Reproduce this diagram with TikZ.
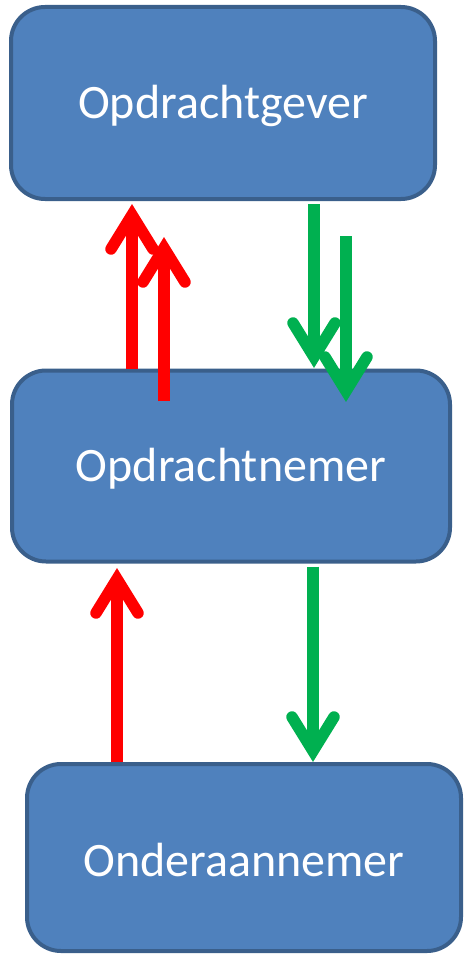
\documentclass[tikz,border=0pt]{standalone}
\usepackage{fontspec}
\setmainfont{Carlito}
\usetikzlibrary{calc}
\definecolor{boxfill}{HTML}{4F81BD}
\definecolor{boxline}{HTML}{3A5F8B}
\definecolor{upred}{HTML}{FF0000}
\definecolor{downgreen}{HTML}{00B050}
% set the name a little below the box centre, keeping its measured size
\newcommand\partyname[1]{\raisebox{-3pt}[\height][\depth]{#1}}
\begin{document}
\begin{tikzpicture}[x=1pt,y=-1pt,
  party/.style={draw=boxline, fill=boxfill, line width=4pt, rounded corners=34pt,
    text=white, font=\fontsize{48}{52}\selectfont, inner sep=0pt},
  shaft/.style={line width=11.5pt, line cap=butt},
  redarrow/.style={shaft, draw=upred},
  greenarrow/.style={shaft, draw=downgreen},
  headup/.pic={\draw[line width=11.5pt, line cap=round, line join=miter, miter limit=10]
    (-21,34) -- (0,0) -- (21,34);},
  headdown/.pic={\draw[line width=11.5pt, line cap=round, line join=miter, miter limit=10]
    (-21,-34) -- (0,0) -- (21,-34);}
]
\useasboundingbox (0,0) rectangle (464,955);

% the three parties
\node[party, minimum width=424pt, minimum height=192pt] (gever) at (223,103) {\partyname{Opdrachtgever}};
\node[party, minimum width=438pt, minimum height=191pt] (nemer) at (231,466) {\partyname{Opdrachtnemer}};
\node[party, minimum width=434pt, minimum height=187pt] (onder) at (244,857.5) {\partyname{Onderaannemer}};

% arrow tips
\coordinate (r1) at (132,215);
\coordinate (r2) at (164,248);
\coordinate (g1) at (314,357);
\coordinate (g2) at (346,391);
\coordinate (r3) at (117,579);
\coordinate (g3) at (313,751);
\coordinate (r2base) at (164,401);
\coordinate (g2base) at (346,236);

% between Opdrachtgever and Opdrachtnemer
\draw[redarrow] (r1 |- nemer.north) -- (r1);
\pic[upred] at (r1) {headup};
\draw[redarrow] (r2base) -- (r2);
\pic[upred] at (r2) {headup};
\draw[greenarrow] ($(g1 |- gever.south)+(0,3)$) -- (g1);
\pic[downgreen] at (g1) {headdown};
\draw[greenarrow] (g2base) -- (g2);
\pic[downgreen] at (g2) {headdown};

% between Opdrachtnemer and Onderaannemer
\draw[redarrow] (r3 |- onder.north) -- (r3);
\pic[upred] at (r3) {headup};
\draw[greenarrow] ($(g3 |- nemer.south)+(0,3)$) -- (g3);
\pic[downgreen] at (g3) {headdown};
\end{tikzpicture}
\end{document}
